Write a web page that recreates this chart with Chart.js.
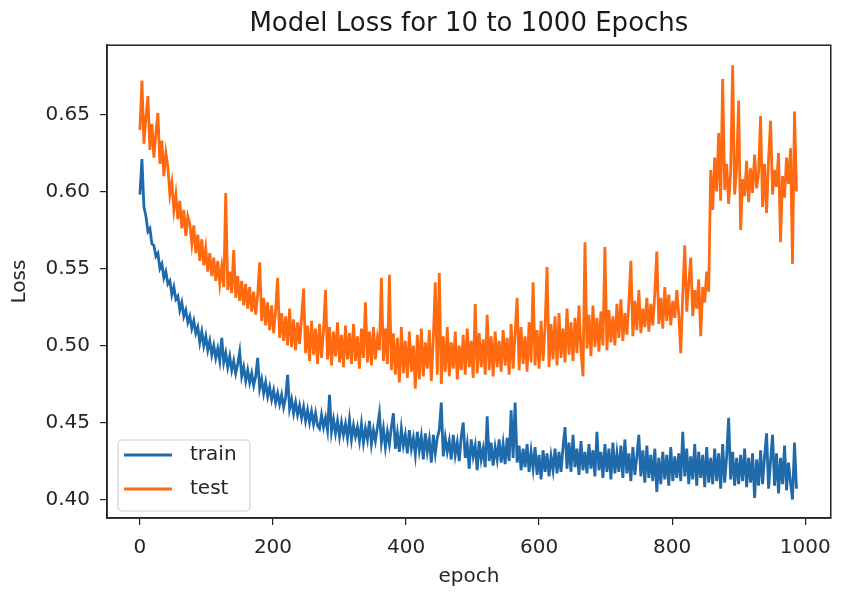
<!DOCTYPE html>
<html>
<head>
<meta charset="utf-8">
<script src="https://cdn.jsdelivr.net/npm/chart.js@4.4.0/dist/chart.umd.min.js"></script>
<style>
  html, body { margin: 0; padding: 0; background: #fff; }
  #wrap { width: 842px; height: 592px; }
</style>
</head>
<body>
<div id="wrap"><canvas id="lossChart" width="842" height="592"></canvas></div>
<script>
// loss curves, one value every 3 epochs (rows = 90 epochs)
const epochStep = 3;

const trainLoss = [
  0.598, 0.621, 0.590, 0.584, 0.574, 0.576, 0.566, 0.565, 0.558, 0.560,
  0.550, 0.553, 0.544, 0.548, 0.540, 0.542, 0.533, 0.538, 0.530, 0.532,
  0.523, 0.528, 0.519, 0.523, 0.515, 0.519, 0.511, 0.516, 0.508, 0.512,
  0.502, 0.509, 0.500, 0.506, 0.497, 0.503, 0.494, 0.500, 0.492, 0.498,
  0.490, 0.505, 0.489, 0.495, 0.486, 0.493, 0.484, 0.490, 0.482, 0.488,
  0.496, 0.480, 0.486, 0.477, 0.484, 0.476, 0.482, 0.474, 0.480, 0.492,
  0.472, 0.478, 0.469, 0.476, 0.467, 0.473, 0.465, 0.471, 0.463, 0.469,
  0.462, 0.468, 0.460, 0.466, 0.481, 0.459, 0.465, 0.456, 0.463, 0.455,
  0.461, 0.453, 0.460, 0.451, 0.458, 0.450, 0.457, 0.449, 0.456, 0.448,
  0.446, 0.455, 0.447, 0.453, 0.445, 0.468, 0.444, 0.452, 0.443, 0.451,
  0.441, 0.450, 0.442, 0.449, 0.440, 0.452, 0.439, 0.448, 0.441, 0.447,
  0.438, 0.449, 0.437, 0.446, 0.439, 0.451, 0.436, 0.445, 0.438, 0.447,
  0.456, 0.437, 0.446, 0.434, 0.444, 0.436, 0.447, 0.456, 0.433, 0.443,
  0.431, 0.446, 0.435, 0.442, 0.430, 0.445, 0.433, 0.440, 0.429, 0.444,
  0.432, 0.441, 0.426, 0.443, 0.431, 0.439, 0.424, 0.442, 0.430, 0.440,
  0.445, 0.463, 0.428, 0.440, 0.431, 0.438, 0.426, 0.442, 0.429, 0.437,
  0.425, 0.441, 0.450, 0.427, 0.436, 0.420, 0.439, 0.428, 0.435, 0.419,
  0.438, 0.426, 0.433, 0.421, 0.454, 0.425, 0.437, 0.422, 0.434, 0.426,
  0.439, 0.424, 0.436, 0.423, 0.440, 0.425, 0.458, 0.427, 0.463, 0.424,
  0.435, 0.419, 0.433, 0.421, 0.436, 0.418, 0.431, 0.420, 0.434, 0.416,
  0.429, 0.413, 0.432, 0.418, 0.430, 0.415, 0.428, 0.419, 0.433, 0.417,
  0.431, 0.418, 0.434, 0.447, 0.420, 0.437, 0.418, 0.442, 0.421, 0.433,
  0.416, 0.438, 0.419, 0.431, 0.417, 0.436, 0.420, 0.432, 0.415, 0.444,
  0.419, 0.431, 0.414, 0.436, 0.418, 0.433, 0.413, 0.437, 0.417, 0.430,
  0.418, 0.435, 0.414, 0.439, 0.417, 0.430, 0.412, 0.434, 0.416, 0.428,
  0.442, 0.415, 0.432, 0.411, 0.435, 0.414, 0.429, 0.412, 0.433, 0.405,
  0.427, 0.410, 0.431, 0.413, 0.429, 0.409, 0.434, 0.412, 0.428, 0.414,
  0.430, 0.412, 0.444, 0.415, 0.433, 0.410, 0.428, 0.413, 0.436, 0.409,
  0.431, 0.414, 0.429, 0.408, 0.434, 0.411, 0.427, 0.410, 0.433, 0.412,
  0.430, 0.407, 0.436, 0.411, 0.428, 0.453, 0.413, 0.431, 0.409, 0.427,
  0.410, 0.429, 0.412, 0.433, 0.408, 0.427, 0.411, 0.430, 0.401, 0.426,
  0.409, 0.432, 0.410, 0.428, 0.443, 0.407, 0.425, 0.442, 0.409, 0.430,
  0.404, 0.427, 0.410, 0.435, 0.406, 0.424, 0.411, 0.400, 0.437, 0.407
];

const testLoss = [
  0.640, 0.672, 0.631, 0.648, 0.662, 0.627, 0.644, 0.622, 0.638, 0.651,
  0.618, 0.633, 0.610, 0.625, 0.616, 0.598, 0.606, 0.588, 0.598, 0.582,
  0.594, 0.576, 0.588, 0.571, 0.584, 0.579, 0.566, 0.578, 0.560, 0.572,
  0.555, 0.569, 0.552, 0.563, 0.548, 0.560, 0.545, 0.557, 0.542, 0.555,
  0.540, 0.551, 0.538, 0.599, 0.536, 0.548, 0.534, 0.562, 0.531, 0.545,
  0.529, 0.542, 0.526, 0.540, 0.524, 0.538, 0.522, 0.535, 0.520, 0.533,
  0.554, 0.516, 0.531, 0.513, 0.528, 0.510, 0.526, 0.508, 0.523, 0.544,
  0.505, 0.521, 0.503, 0.519, 0.500, 0.524, 0.499, 0.517, 0.497, 0.515,
  0.501, 0.518, 0.537, 0.495, 0.513, 0.490, 0.516, 0.494, 0.511, 0.488,
  0.514, 0.492, 0.510, 0.536, 0.491, 0.512, 0.487, 0.509, 0.493, 0.515,
  0.489, 0.507, 0.486, 0.513, 0.491, 0.508, 0.488, 0.514, 0.490, 0.506,
  0.485, 0.511, 0.492, 0.528, 0.489, 0.509, 0.487, 0.512, 0.491, 0.505,
  0.497, 0.544, 0.490, 0.511, 0.488, 0.546, 0.484, 0.508, 0.481, 0.505,
  0.476, 0.512, 0.482, 0.503, 0.479, 0.509, 0.483, 0.500, 0.472, 0.507,
  0.478, 0.511, 0.480, 0.502, 0.485, 0.510, 0.477, 0.504, 0.541, 0.481,
  0.547, 0.475, 0.506, 0.483, 0.512, 0.480, 0.502, 0.485, 0.509, 0.478,
  0.500, 0.484, 0.507, 0.481, 0.511, 0.486, 0.503, 0.479, 0.527, 0.482,
  0.508, 0.486, 0.504, 0.481, 0.520, 0.484, 0.506, 0.480, 0.509, 0.486,
  0.503, 0.483, 0.510, 0.487, 0.505, 0.481, 0.514, 0.485, 0.508, 0.531,
  0.484, 0.512, 0.488, 0.506, 0.483, 0.515, 0.489, 0.541, 0.487, 0.510,
  0.485, 0.516, 0.490, 0.512, 0.551, 0.486, 0.514, 0.491, 0.519, 0.487,
  0.521, 0.492, 0.511, 0.489, 0.524, 0.494, 0.515, 0.490, 0.518, 0.495,
  0.526, 0.497, 0.480, 0.567, 0.498, 0.520, 0.493, 0.526, 0.499, 0.518,
  0.496, 0.522, 0.500, 0.564, 0.497, 0.523, 0.502, 0.519, 0.500, 0.527,
  0.505, 0.530, 0.503, 0.521, 0.507, 0.528, 0.555, 0.506, 0.529, 0.510,
  0.536, 0.508, 0.524, 0.512, 0.531, 0.509, 0.527, 0.513, 0.534, 0.561,
  0.514, 0.531, 0.511, 0.538, 0.516, 0.533, 0.513, 0.529, 0.518, 0.536,
  0.520, 0.495, 0.533, 0.565, 0.522, 0.540, 0.557, 0.519, 0.536, 0.524,
  0.543, 0.506, 0.538, 0.528, 0.548, 0.535, 0.614, 0.588, 0.622, 0.600,
  0.638, 0.594, 0.673, 0.601, 0.618, 0.592, 0.612, 0.682, 0.598, 0.615,
  0.659, 0.575, 0.608, 0.597, 0.620, 0.593, 0.615, 0.599, 0.624, 0.602,
  0.612, 0.649, 0.590, 0.618, 0.586, 0.621, 0.646, 0.598, 0.614, 0.603,
  0.625, 0.567, 0.610, 0.596, 0.622, 0.605, 0.628, 0.553, 0.652, 0.600
];

const xTickValues = [0, 200, 400, 600, 800, 1000];
const yTickValues = [0.40, 0.45, 0.50, 0.55, 0.60, 0.65];

const seriesNames = ['train', 'test'];
const seriesColors = ['#1f6aab', '#ff6a10'];

const toPoints = arr => arr.map((v, i) => ({ x: i * epochStep, y: v }));

Chart.defaults.font.family = '"DejaVu Sans", sans-serif';
Chart.defaults.color = '#262626';

// matplotlib-like frame around the plot area + legend box in lower left
const framePlugin = {
  id: 'frame',
  afterDraw(chart) {
    const { ctx, chartArea: a } = chart;
    ctx.save();
    ctx.strokeStyle = '#222';
    ctx.lineWidth = 1.5;
    ctx.strokeRect(a.left, a.top, a.right - a.left, a.bottom - a.top);

    // legend
    const bx = a.left + 11, by = a.bottom - 78, bw = 132, bh = 71;
    ctx.beginPath();
    ctx.roundRect(bx, by, bw, bh, 4);
    ctx.fillStyle = 'rgba(255,255,255,0.85)';
    ctx.fill();
    ctx.strokeStyle = '#d0d0d0';
    ctx.lineWidth = 1.2;
    ctx.stroke();
    ctx.font = '20px "DejaVu Sans"';
    ctx.textBaseline = 'middle';
    chart.data.datasets.forEach((ds, i) => {
      const ly = by + 15 + i * 34;
      ctx.beginPath();
      ctx.moveTo(bx + 6, ly);
      ctx.lineTo(bx + 54, ly);
      ctx.strokeStyle = ds.borderColor;
      ctx.lineWidth = 3;
      ctx.stroke();
      ctx.fillStyle = '#262626';
      ctx.fillText(ds.label, bx + 72, ly);
    });
    ctx.restore();
  }
};

document.addEventListener('DOMContentLoaded', () => {
  const ctx = document.getElementById('lossChart').getContext('2d');

  new Chart(ctx, {
    type: 'line',
    data: {
      datasets: [
        {
          label: seriesNames[0],
          data: toPoints(trainLoss),
          borderColor: seriesColors[0],
          borderWidth: 2.8,
          pointRadius: 0,
          tension: 0,
          order: 2
        },
        {
          label: seriesNames[1],
          data: toPoints(testLoss),
          borderColor: seriesColors[1],
          borderWidth: 2.8,
          pointRadius: 0,
          tension: 0,
          order: 1
        }
      ]
    },
    options: {
      responsive: false,
      animation: false,
      layout: { padding: { left: 0, right: 4, top: 0, bottom: 0 } },
      plugins: {
        legend: { display: false },
        tooltip: { enabled: false },
        title: {
          display: true,
          fullSize: false,
          text: 'Model Loss for 10 to 1000 Epochs',
          color: '#1a1a1a',
          font: { size: 26, weight: 'normal' },
          padding: { top: 9, bottom: 5 }
        }
      },
      scales: {
        x: {
          type: 'linear',
          min: -49.5,
          max: 1038.5,
          afterBuildTicks: s => { s.ticks = xTickValues.map(v => ({ value: v })); },
          afterFit: s => { s.height = 74; },
          ticks: { font: { size: 20 }, padding: 11, maxRotation: 0, callback: v => String(v) },
          grid: { drawOnChartArea: false, drawTicks: true, tickLength: 7, color: '#222', lineWidth: 1.2 },
          border: { display: true, color: '#222', width: 1.5 },
          title: { display: true, text: 'epoch', font: { size: 20 }, padding: { top: 0, bottom: 3 } }
        },
        y: {
          min: 0.388,
          max: 0.695,
          afterBuildTicks: s => { s.ticks = yTickValues.map(v => ({ value: v })); },
          afterFit: s => { s.width = 107; },
          ticks: { font: { size: 20 }, padding: 10, callback: v => v.toFixed(2) },
          grid: { drawOnChartArea: false, drawTicks: true, tickLength: 7, color: '#222', lineWidth: 1.2 },
          border: { display: true, color: '#222', width: 1.5 },
          title: { display: true, text: 'Loss', font: { size: 20 }, padding: { top: 8, bottom: 0 } }
        }
      }
    },
    plugins: [framePlugin]
  });
});
</script>
</body>
</html>
